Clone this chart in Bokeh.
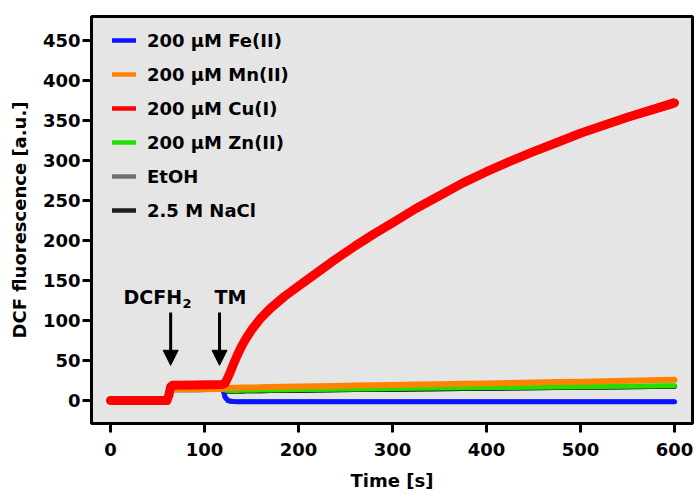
from bokeh.plotting import figure
from bokeh.models import (ColumnDataSource, Legend, LegendItem, Arrow, NormalHead,
                          Range1d, FixedTicker)
from bokeh.embed import file_html
from bokeh.resources import INLINE
from bokeh.core.properties import value

# ---------------- data ----------------
time_s = [0, 60, 62, 64, 66, 90, 118, 120, 122, 125, 128, 131, 135, 140, 145, 150,
          160, 170, 185, 200, 220, 240, 260, 280, 300, 325, 350, 375, 400, 425,
          450, 475, 500, 525, 550, 575, 600]

cu_i = [0, 0, 6, 17, 19, 19.5, 20, 20.5, 22, 29, 37, 46, 57, 69, 79, 88,
        103, 115, 130, 143, 160, 177, 193, 208, 222, 240, 256, 272, 286, 299,
        311, 322.5, 334, 344, 354, 363, 372]
cu_i_noise = [0, 0, 0, 0, 0, 0, 0, 0, 0, 0, 0, 0, 0, 0, 0, 0,
              0, 0, 0, 0, 0, 0, 0, 0.5, 1, 1.5, 2, 2.5, 3, 3.3,
              3.6, 4, 4.4, 4.8, 5.2, 5.6, 6]
mn_ii = [0, 0, 6, 13, 14, 14, 14.5, 15, 15.5, 15.5, 15.7, 15.8, 16, 16.1, 16.2, 16.3,
         16.5, 16.8, 17.1, 17.4, 17.8, 18.2, 18.6, 19, 19.4, 19.9, 20.4, 20.9, 21.4, 21.9,
         22.4, 23, 23.5, 24, 24.6, 25.2, 25.8]
zn_ii = [0, 0, 5, 12, 13.5, 13.5, 14, 14, 13, 12.5, 12.5, 12.5, 12.6, 12.7, 12.8, 12.9,
         13, 13.2, 13.4, 13.6, 13.9, 14.1, 14.4, 14.6, 14.9, 15.2, 15.5, 15.8, 16.1, 16.4,
         16.7, 17, 17.2, 17.5, 17.8, 18.1, 18.4]
fe_ii = [0, 0, 5, 12, 13.5, 13.5, 14, 13, 4, 0, -1, -1.3, -1.5, -1.5, -1.5, -1.5,
         -1.5, -1.5, -1.5, -1.5, -1.5, -1.5, -1.5, -1.5, -1.5, -1.5, -1.5, -1.5, -1.5, -1.5,
         -1.5, -1.5, -1.5, -1.5, -1.5, -1.5, -1.5]
etoh = [0, 0, 5, 12, 13.5, 13.5, 14, 14, 12.5, 12, 12, 12, 12.1, 12.2, 12.3, 12.4,
        12.5, 12.7, 12.9, 13.1, 13.4, 13.6, 13.9, 14.1, 14.4, 14.7, 15, 15.3, 15.6, 15.9,
        16.2, 16.5, 16.7, 17, 17.3, 17.6, 17.9]
nacl = [0, 0, 5, 12, 13.5, 13.5, 14, 14, 12, 11.5, 11.5, 11.5, 11.6, 11.7, 11.8, 11.9,
        12, 12.2, 12.4, 12.6, 12.9, 13.1, 13.4, 13.6, 13.9, 14.2, 14.5, 14.8, 15.1, 15.4,
        15.7, 16, 16.2, 16.5, 16.8, 17.1, 17.4]

series_keys = ["fe", "mn", "cu", "zn", "etoh", "nacl"]
legend_labels = ["200 \u03bcM Fe(II)", "200 \u03bcM Mn(II)", "200 \u03bcM Cu(I)",
                 "200 \u03bcM Zn(II)", "EtOH", "2.5 M NaCl"]
series_colors = ["#0a14ff", "#ff8200", "#ff0000", "#22e000", "#707070", "#1c1c1c"]

x_ticks = [0, 100, 200, 300, 400, 500, 600]
y_ticks = [0, 50, 100, 150, 200, 250, 300, 350, 400, 450]
x_title = "Time [s]"
y_title = "DCF fluorescence [a.u.]"

# annotation arrows (time, start value, end value) and labels
arrow_t = [64, 116]
arrow_top = [110, 110]
arrow_tip = [44, 44]
note_text = ["DCFH", "TM"]
note_t = [13.8, 110.6]
note_v = [129, 129]
sub_text = ["2"]
sub_t = [13.8]
sub_v = [121]

FONT = "DejaVu Sans"

# ---------------- figure ----------------
p = figure(width=695, height=495, output_backend="svg", toolbar_location=None,
           x_range=Range1d(-20.2, 619.2), y_range=Range1d(-28.75, 480),
           min_border_left=91, min_border_right=3, min_border_top=16,
           min_border_bottom=72)
p.background_fill_color = "#e5e5e5"
p.border_fill_color = "white"
p.outline_line_color = "black"
p.outline_line_width = 3
p.grid.visible = False

for ax in (p.xaxis[0], p.yaxis[0]):
    ax.axis_line_width = 3
    ax.axis_line_color = "black"
    ax.major_tick_line_width = 3
    ax.major_tick_line_color = "black"
    ax.major_tick_out = 9
    ax.major_tick_in = 0
    ax.minor_tick_line_color = None
    ax.major_label_text_font = FONT
    ax.major_label_text_font_style = "bold"
    ax.major_label_text_font_size = "18px"
    ax.major_label_text_color = "black"
    ax.axis_label_text_font = FONT
    ax.axis_label_text_font_style = "bold"
    ax.axis_label_text_font_size = "18px"
    ax.axis_label_text_color = "black"

p.xaxis.ticker = FixedTicker(ticks=x_ticks)
p.yaxis.ticker = FixedTicker(ticks=y_ticks)
p.xaxis.axis_label = x_title
p.yaxis.axis_label = y_title
p.xaxis.major_label_standoff = 10
p.yaxis.major_label_standoff = 2
p.xaxis.axis_label_standoff = 11
p.yaxis.axis_label_standoff = 10

src = ColumnDataSource(dict(t=time_s, fe=fe_ii, mn=mn_ii, cu=cu_i, zn=zn_ii,
                            etoh=etoh, nacl=nacl,
                            cu_lo=[c - n for c, n in zip(cu_i, cu_i_noise)],
                            cu_hi=[c + n for c, n in zip(cu_i, cu_i_noise)]))

common = dict(source=src, line_join="round", line_cap="round")

# thin copies of each series (drawn first, hidden under the real lines) that
# give the legend its thinner line swatches
proxies = [p.line("t", k, line_color=c, line_width=4.5, **common)
           for k, c in zip(series_keys, series_colors)]

p.line("t", "etoh", line_color=series_colors[4], line_width=4.5, **common)
p.line("t", "nacl", line_color=series_colors[5], line_width=4.5, **common)
p.line("t", "fe", line_color=series_colors[0], line_width=5, **common)
p.line("t", "zn", line_color=series_colors[3], line_width=5, **common)
p.line("t", "mn", line_color=series_colors[1], line_width=6, **common)
p.varea(x="t", y1="cu_lo", y2="cu_hi", source=src, fill_color=series_colors[2])
p.line("t", "cu", line_color=series_colors[2], line_width=9, **common)

# arrows
for t, a, b in zip(arrow_t, arrow_top, arrow_tip):
    p.add_layout(Arrow(end=NormalHead(size=15, fill_color="black", line_color="black",
                                      line_width=1),
                       x_start=t, y_start=a, x_end=t, y_end=b,
                       line_color="black", line_width=3))

note_src = ColumnDataSource(dict(x=note_t, y=note_v, text=note_text))
p.text(x="x", y="y", text="text", source=note_src, text_font=value(FONT),
       text_font_style="bold", text_font_size="19px", text_color="black",
       text_baseline="alphabetic", text_align="left")
sub_src = ColumnDataSource(dict(x=sub_t, y=sub_v, text=sub_text))
p.text(x="x", y="y", text="text", source=sub_src, text_font=value(FONT),
       text_font_style="bold", text_font_size="13px", text_color="black",
       text_baseline="alphabetic", text_align="left", x_offset=59)

# legend
items = [LegendItem(label=lab, renderers=[r]) for lab, r in zip(legend_labels, proxies)]
legend = Legend(items=items, location=(21, 202), glyph_width=24, glyph_height=22,
                label_height=22, spacing=12, padding=0, margin=0, label_standoff=11,
                border_line_color=None, background_fill_alpha=0,
                label_text_font=FONT, label_text_font_style="bold",
                label_text_font_size="18px", label_text_color="black")
p.add_layout(legend)

open("out.html", "w").write(file_html(p, INLINE))
